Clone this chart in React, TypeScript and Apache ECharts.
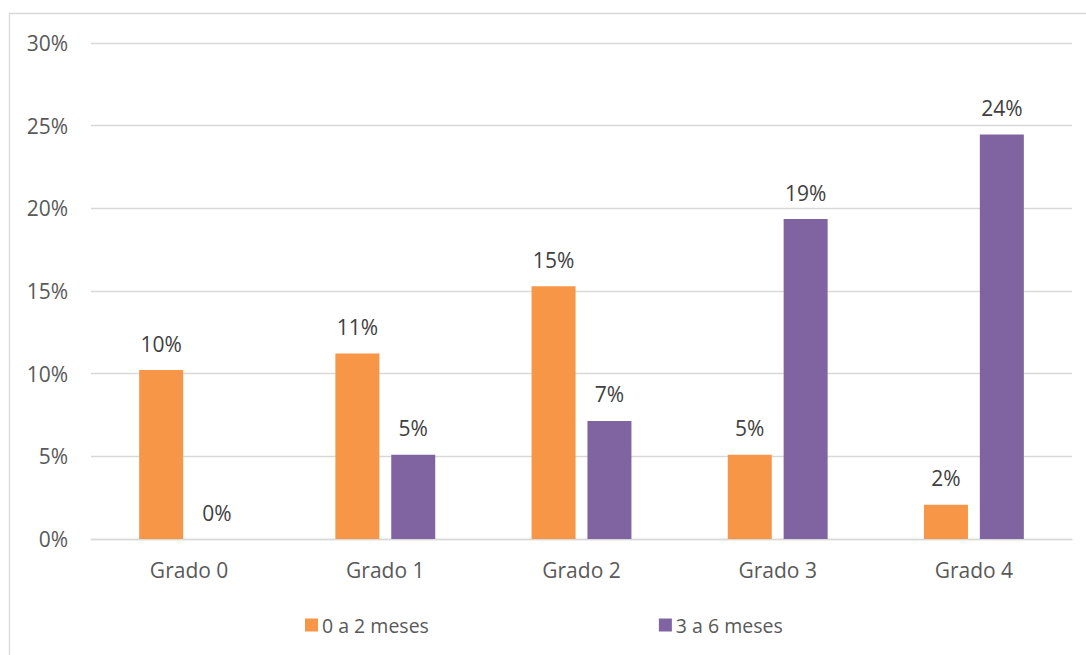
import React, { useEffect, useRef } from "react";
import * as echarts from "echarts";

const categories = ["Grado 0", "Grado 1", "Grado 2", "Grado 3", "Grado 4"];
const serieA = [10.22, 11.22, 15.29, 5.09, 2.07];
const serieB = [0, 5.09, 7.14, 19.35, 24.47];
const seriesNames = ["0 a 2 meses", "3 a 6 meses"];
const yMin = 0;
const yMax = 30;
const yStep = 5;

const FONT = "'Open Sans', sans-serif";

export default function App() {
  const ref = useRef<HTMLDivElement>(null);
  useEffect(() => {
    if (!ref.current) return;
    const chart = echarts.init(ref.current, null, { renderer: "svg" });
    const label = {
      show: true,
      position: "top" as const,
      distance: 16,
      color: "#404040",
      fontFamily: FONT,
      fontSize: 21,
      formatter: (p: any) => Math.round(p.value) + "%",
    };
    chart.setOption({
      animation: false,
      backgroundColor: "#ffffff",
      textStyle: { fontFamily: FONT },
      graphic: [
        {
          type: "rect",
          shape: { x: 9.5, y: 13.5, width: 1200, height: 800 },
          style: { fill: "none", stroke: "#d9d9d9", lineWidth: 1.3 },
          silent: true,
        },
      ],
      grid: { left: 91, right: 14, top: 43, bottom: 116, containLabel: false },
      legend: {
        data: seriesNames,
        left: 300,
        top: 610,
        icon: "rect",
        itemWidth: 13,
        itemHeight: 13,
        itemGap: 230,
        textStyle: { color: "#595959", fontFamily: FONT, fontSize: 19.5, padding: [0, 0, 0, -1] },
      },
      xAxis: {
        type: "category",
        data: categories,
        axisLine: { show: true, lineStyle: { color: "#d9d9d9", width: 1.3 } },
        axisTick: { show: false },
        axisLabel: { color: "#595959", fontFamily: FONT, fontSize: 21, margin: 20 },
      },
      yAxis: {
        type: "value",
        min: yMin,
        max: yMax,
        interval: yStep,
        axisLine: { show: false },
        axisTick: { show: false },
        splitLine: { lineStyle: { color: "#d9d9d9", width: 1.3 } },
        axisLabel: {
          color: "#595959",
          fontFamily: FONT,
          fontSize: 21,
          margin: 23,
          formatter: "{value}%",
        },
      },
      series: [
        {
          name: seriesNames[0],
          type: "bar",
          data: serieA,
          barWidth: 44,
          barGap: "27%",
          itemStyle: { color: "#F79646" },
          label,
        },
        {
          name: seriesNames[1],
          type: "bar",
          data: serieB,
          barWidth: 44,
          itemStyle: { color: "#8064A2" },
          label,
        },
      ],
    });
    return () => chart.dispose();
  }, []);
  return (
    <div
      ref={ref}
      style={{ position: "absolute", left: 0, top: 0, width: 1086, height: 655 }}
    />
  );
}
